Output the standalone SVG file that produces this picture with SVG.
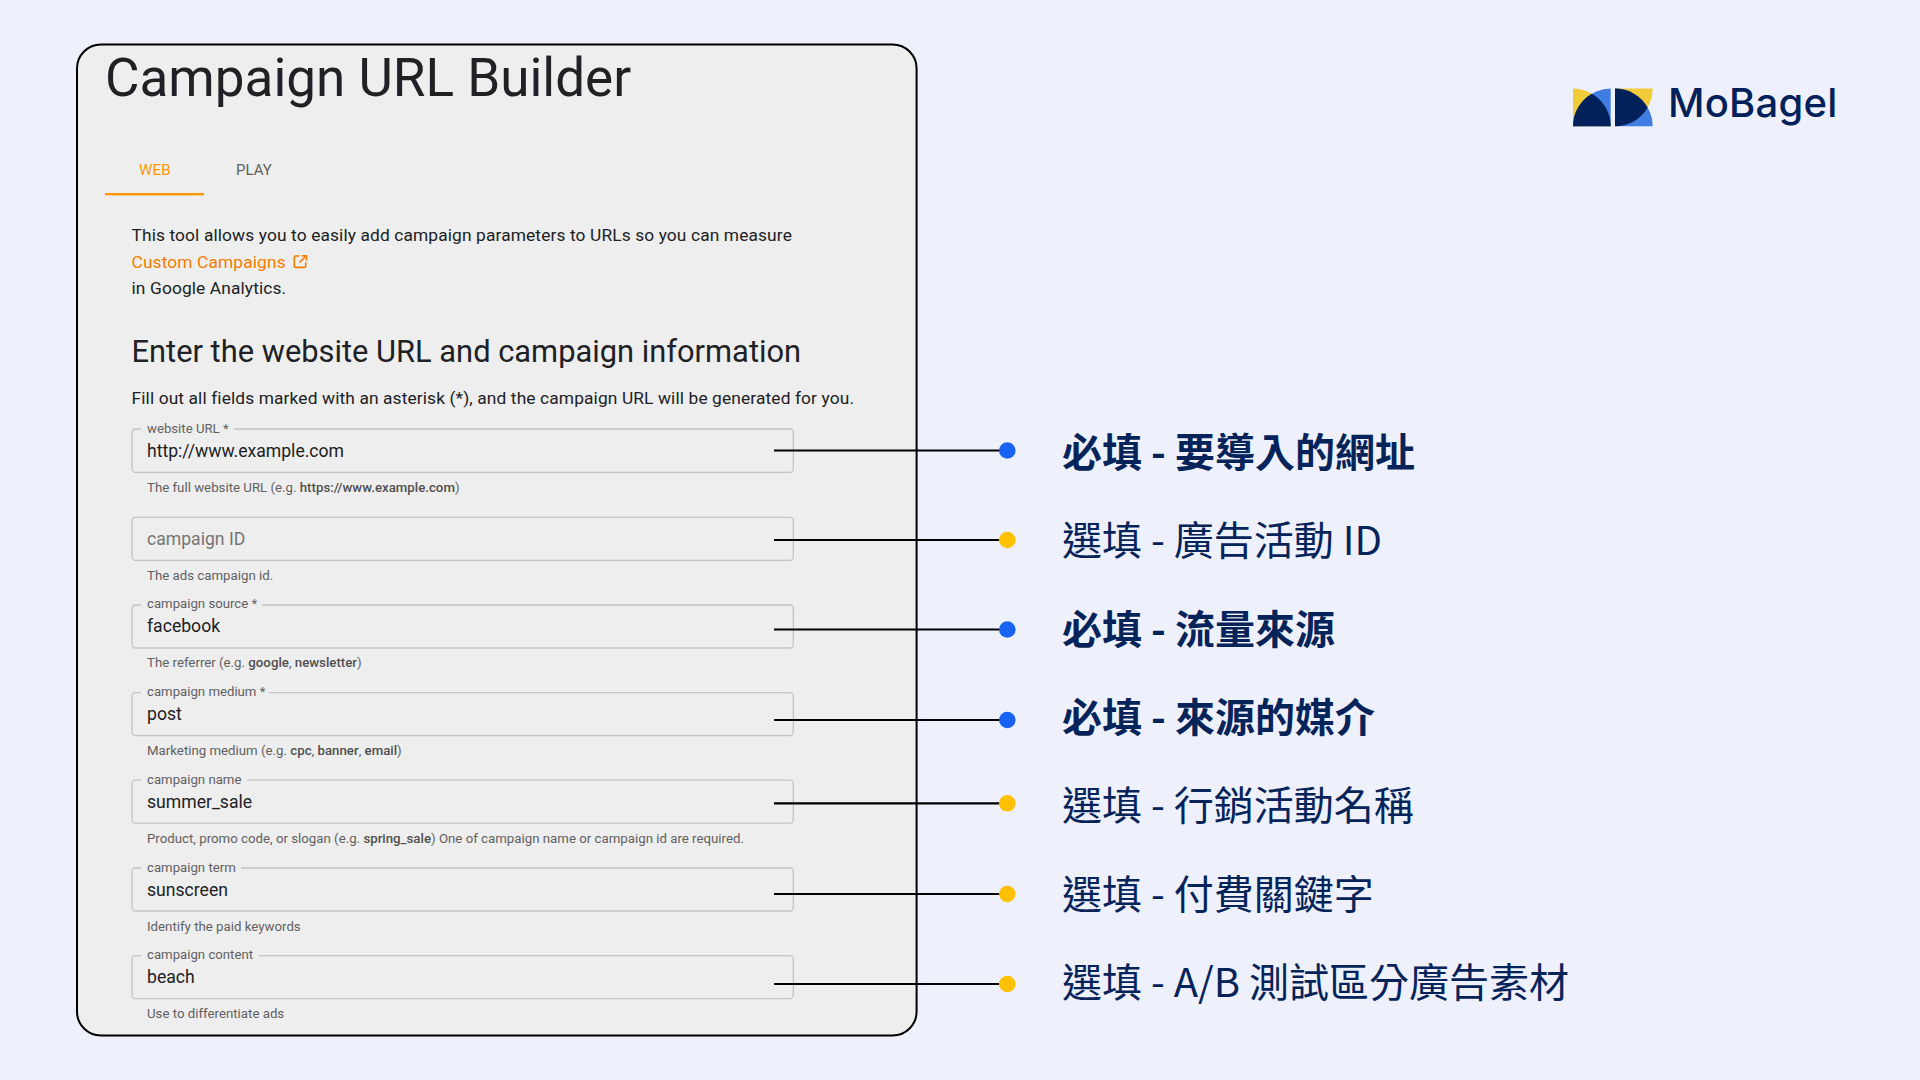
<svg xmlns="http://www.w3.org/2000/svg" width="1920" height="1080" viewBox="0 0 1920 1080">
<style>
text{font-family:Roboto,"Liberation Sans",sans-serif;fill:#202124}
.body{font-size:17.35px;letter-spacing:.12px}
.flab{font-size:13.2px;fill:#616161}
.val{font-size:17.6px}
.help{font-size:13.25px;fill:#616161}
.help tspan{font-weight:500;fill:#505050}
.field{fill:none;stroke:#c4c4c4;stroke-width:1.3}
.gap{fill:#eeeeee;stroke:none}
.cn{font-family:"Noto Sans CJK TC",sans-serif;font-size:40px;fill:#06245a}
.req{font-weight:700}
.conn{stroke:#000;stroke-width:2.2;fill:none}
.blue{fill:#1863f2}.yel{fill:#ffc000}
.ly{fill:#f2cb38}.lb{fill:#3f7de0}.ln{fill:#02215a}
</style>
<rect width="1920" height="1080" fill="#eef1fb"/>
<g id="panel">
<rect x="77" y="44.5" width="839.6" height="991" rx="24" fill="#eeeeee" stroke="#000" stroke-width="2"/>
<text x="105" y="96" font-size="53" fill="#202124">Campaign URL Builder</text>
<text x="155" y="175" font-size="15" letter-spacing=".2" text-anchor="middle" style="fill:#ff9800">WEB</text>
<text x="236" y="175" font-size="15" style="fill:#616161">PLAY</text>
<rect x="105" y="193" width="99" height="2.4" fill="#ff9800"/>
<text class="body" x="131.5" y="241">This tool allows you to easily add campaign parameters to URLs so you can measure</text>
<text class="body" x="131.5" y="267.6" style="fill:#f57c00">Custom Campaigns</text>
<path d="M299.5 256h-4a1.2 1.2 0 0 0-1.2 1.2v9a1.2 1.2 0 0 0 1.2 1.2h9a1.2 1.2 0 0 0 1.2-1.2v-4M299.5 262.5l6.5-6.5M301.5 255.7h5v5" fill="none" stroke="#f57c00" stroke-width="1.6"/>
<text class="body" x="131.5" y="294">in Google Analytics.</text>
<text x="131.5" y="361.7" font-size="30.85">Enter the website URL and campaign information</text>
<text class="body" x="131.5" y="404">Fill out all fields marked with an asterisk (*), and the campaign URL will be generated for you.</text>
</g>
<g id="field-website-url">
<rect class="field" x="132" y="429" width="661.3" height="43.3" rx="3.5"/><rect class="gap" x="141" y="425" width="93" height="8"/>
<text class="flab" x="147" y="433">website URL *</text><text class="val" x="147" y="457">http://www.example.com</text>
<text class="help" x="147" y="492">The full website URL (e.g. <tspan>https://www.example.com</tspan>)</text>
</g>
<g id="field-campaign-id">
<rect class="field" x="132" y="517.3" width="661.3" height="43" rx="3.5"/>
<text class="val" x="147" y="545" style="fill:#757575">campaign ID</text>
<text class="help" x="147" y="580">The ads campaign id.</text>
</g>
<g id="field-campaign-source">
<rect class="field" x="132" y="605" width="661.3" height="43" rx="3.5"/><rect class="gap" x="141" y="601" width="121" height="8"/>
<text class="flab" x="147" y="608">campaign source *</text><text class="val" x="147" y="632">facebook</text>
<text class="help" x="147" y="667">The referrer (e.g. <tspan>google</tspan>, <tspan>newsletter</tspan>)</text>
</g>
<g id="field-campaign-medium">
<rect class="field" x="132" y="692.6" width="661.3" height="43" rx="3.5"/><rect class="gap" x="141" y="688" width="128" height="8"/>
<text class="flab" x="147" y="696">campaign medium *</text><text class="val" x="147" y="720">post</text>
<text class="help" x="147" y="755">Marketing medium (e.g. <tspan>cpc</tspan>, <tspan>banner</tspan>, <tspan>email</tspan>)</text>
</g>
<g id="field-campaign-name">
<rect class="field" x="132" y="780.2" width="661.3" height="43" rx="3.5"/><rect class="gap" x="141" y="776" width="106" height="8"/>
<text class="flab" x="147" y="784">campaign name</text><text class="val" x="147" y="808">summer_sale</text>
<text class="help" x="147" y="843">Product, promo code, or slogan (e.g. <tspan>spring_sale</tspan>) One of campaign name or campaign id are required.</text>
</g>
<g id="field-campaign-term">
<rect class="field" x="132" y="868" width="661.3" height="43" rx="3.5"/><rect class="gap" x="141" y="864" width="100" height="8"/>
<text class="flab" x="147" y="872">campaign term</text><text class="val" x="147" y="896">sunscreen</text>
<text class="help" x="147" y="931">Identify the paid keywords</text>
</g>
<g id="field-campaign-content">
<rect class="field" x="132" y="955.6" width="661.3" height="43" rx="3.5"/><rect class="gap" x="141" y="951" width="118" height="8"/>
<text class="flab" x="147" y="959">campaign content</text><text class="val" x="147" y="983">beach</text>
<text class="help" x="147" y="1018">Use to differentiate ads</text>
</g>
<g id="connectors">
<path class="conn" d="M774 450.5H1000M774 540H1000M774 629.5H1000M774 720H1000M774 803.3H1000M774 894H1000M774 984H1000"/>
</g>
<g id="callout-1"><circle class="blue" cx="1007.3" cy="450.5" r="8.3"/><text class="cn req" x="1062" y="466.5">必填 - 要導入的網址</text></g>
<g id="callout-2"><circle class="yel" cx="1007.3" cy="540" r="8.3"/><text class="cn" x="1062" y="554.5">選填 - 廣告活動 ID</text></g>
<g id="callout-3"><circle class="blue" cx="1007.3" cy="629.5" r="8.3"/><text class="cn req" x="1062" y="643.5">必填 - 流量來源</text></g>
<g id="callout-4"><circle class="blue" cx="1007.3" cy="720" r="8.3"/><text class="cn req" x="1062" y="732">必填 - 來源的媒介</text></g>
<g id="callout-5"><circle class="yel" cx="1007.3" cy="803.3" r="8.3"/><text class="cn" x="1062" y="819.5">選填 - 行銷活動名稱</text></g>
<g id="callout-6"><circle class="yel" cx="1007.3" cy="894" r="8.3"/><text class="cn" x="1062" y="908.5">選填 - 付費關鍵字</text></g>
<g id="callout-7"><circle class="yel" cx="1007.3" cy="984" r="8.3"/><text class="cn" x="1062" y="996.5">選填 - A/B 測試區分廣告素材</text></g>
<g id="logo">
<path class="ly" d="M1573 126.3V88.6A37.7 37.7 0 0 1 1610.7 126.3Z"/>
<path class="lb" d="M1610.7 126.3V88.6A37.7 37.7 0 0 0 1573 126.3Z"/>
<path class="ln" d="M1573 126.3A37.7 37.7 0 0 1 1591.85 93.65A37.7 37.7 0 0 1 1610.7 126.3Z"/>
<path class="ly" d="M1615 88.6H1652.7A37.7 37.7 0 0 1 1615 126.3Z"/>
<path class="lb" d="M1615 126.3V88.6A37.7 37.7 0 0 1 1652.7 126.3Z"/>
<path class="ln" d="M1615 88.6A37.7 37.7 0 0 1 1647.65 107.45A37.7 37.7 0 0 1 1615 126.3Z"/>
<text x="1668" y="117.3" style="font-family:Inter,sans-serif;font-size:40px;font-weight:500;letter-spacing:.2px;fill:#02215a">MoBagel</text>
</g>
</svg>
